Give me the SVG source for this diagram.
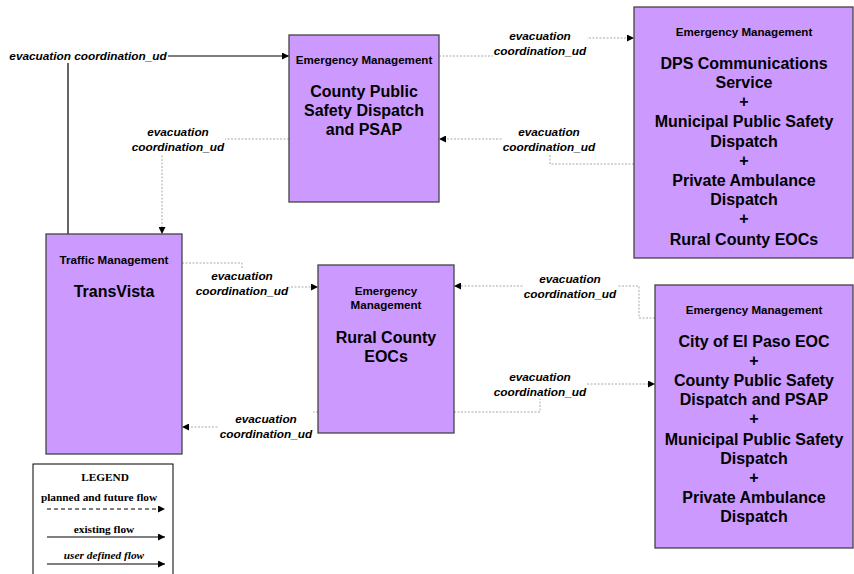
<svg xmlns="http://www.w3.org/2000/svg" width="854" height="574" viewBox="0 0 854 574">
<style>
.box{fill:#CC99FF;stroke:#444;stroke-width:1.3}
.hd{font-family:"Liberation Sans",Arial,sans-serif;font-size:11.6px;font-weight:bold;text-anchor:middle;fill:#000}
.tt{font-family:"Liberation Sans",Arial,sans-serif;font-size:16px;font-weight:bold;text-anchor:middle;fill:#000}
.lb{font-family:"Liberation Sans",Arial,sans-serif;font-size:11.8px;font-weight:bold;font-style:italic;text-anchor:middle;fill:#000}
.dot{fill:none;stroke:#aaa;stroke-width:1;stroke-dasharray:2,1.5}
.sol{fill:none;stroke:#000;stroke-width:1.2}
.lg{font-family:"Liberation Serif","Times New Roman",serif;font-size:11.3px;font-weight:bold;text-anchor:middle;fill:#000}
.bg{fill:#fff}
</style>
<defs>
<marker id="ah" viewBox="0 0 10 10" refX="10" refY="5" markerWidth="7" markerHeight="7" markerUnits="userSpaceOnUse" orient="auto">
<path d="M0,0L10,5L0,10z" fill="#000"/>
</marker>
</defs>
<rect width="854" height="574" fill="#fff"/>
<g id="connectors">
<path class="sol" d="M68,234V56H289" marker-end="url(#ah)"/>
<path class="dot" d="M289,139H162V234" marker-end="url(#ah)"/>
<path class="dot" d="M439,56H540V38H634" marker-end="url(#ah)"/>
<path class="dot" d="M634,164H550V139H439" marker-end="url(#ah)"/>
<path class="dot" d="M182,263H242V287H318" marker-end="url(#ah)"/>
<path class="dot" d="M318,412H266V427H182" marker-end="url(#ah)"/>
<path class="dot" d="M655,318H639V286H454" marker-end="url(#ah)"/>
<path class="dot" d="M454,412H540V384H655" marker-end="url(#ah)"/>
<rect class="bg" x="8" y="48" width="160" height="15"/>
<text class="lb" x="88" y="60">evacuation coordination_ud</text>
<rect class="bg" x="131" y="124" width="94" height="30"/>
<text class="lb" x="178" y="136">evacuation</text>
<text class="lb" x="178" y="151">coordination_ud</text>
<rect class="bg" x="493" y="28" width="94" height="30"/>
<text class="lb" x="540" y="40">evacuation</text>
<text class="lb" x="540" y="55">coordination_ud</text>
<rect class="bg" x="502" y="124" width="94" height="30"/>
<text class="lb" x="549" y="136">evacuation</text>
<text class="lb" x="549" y="151">coordination_ud</text>
<rect class="bg" x="195" y="268" width="94" height="30"/>
<text class="lb" x="242" y="280">evacuation</text>
<text class="lb" x="242" y="295">coordination_ud</text>
<rect class="bg" x="219" y="411" width="94" height="30"/>
<text class="lb" x="266" y="423">evacuation</text>
<text class="lb" x="266" y="438">coordination_ud</text>
<rect class="bg" x="523" y="271" width="94" height="30"/>
<text class="lb" x="570" y="283">evacuation</text>
<text class="lb" x="570" y="298">coordination_ud</text>
<rect class="bg" x="493" y="369" width="94" height="30"/>
<text class="lb" x="540" y="381">evacuation</text>
<text class="lb" x="540" y="396">coordination_ud</text>
</g>
<g id="county">
<rect class="box" x="289" y="35" width="150" height="167"/>
<text class="hd" x="364" y="64">Emergency Management</text>
<text class="tt" x="364" y="97">County Public</text>
<text class="tt" x="364" y="116">Safety Dispatch</text>
<text class="tt" x="364" y="135">and PSAP</text>
</g>
<g id="dps">
<rect class="box" x="634" y="7" width="219" height="251"/>
<text class="hd" x="744" y="36">Emergency Management</text>
<text class="tt" x="744" y="69">DPS Communications</text>
<text class="tt" x="744" y="88">Service</text>
<text class="tt" x="744" y="107">+</text>
<text class="tt" x="744" y="127">Municipal Public Safety</text>
<text class="tt" x="744" y="147">Dispatch</text>
<text class="tt" x="744" y="166">+</text>
<text class="tt" x="744" y="186">Private Ambulance</text>
<text class="tt" x="744" y="205">Dispatch</text>
<text class="tt" x="744" y="224">+</text>
<text class="tt" x="744" y="245">Rural County EOCs</text>
</g>
<g id="transvista">
<rect class="box" x="46" y="234" width="136" height="220"/>
<text class="hd" x="114" y="264">Traffic Management</text>
<text class="tt" x="114" y="297">TransVista</text>
</g>
<g id="rural">
<rect class="box" x="318" y="265" width="136" height="168"/>
<text class="hd" x="386" y="295">Emergency</text>
<text class="hd" x="386" y="309">Management</text>
<text class="tt" x="386" y="343">Rural County</text>
<text class="tt" x="386" y="362">EOCs</text>
</g>
<g id="elpaso">
<rect class="box" x="655" y="285" width="198" height="263"/>
<text class="hd" x="754" y="314">Emergency Management</text>
<text class="tt" x="754" y="347">City of El Paso EOC</text>
<text class="tt" x="754" y="366">+</text>
<text class="tt" x="754" y="386">County Public Safety</text>
<text class="tt" x="754" y="405">Dispatch and PSAP</text>
<text class="tt" x="754" y="424">+</text>
<text class="tt" x="754" y="445">Municipal Public Safety</text>
<text class="tt" x="754" y="464">Dispatch</text>
<text class="tt" x="754" y="483">+</text>
<text class="tt" x="754" y="503">Private Ambulance</text>
<text class="tt" x="754" y="522">Dispatch</text>
</g>
<g id="legend">
<rect x="33" y="464" width="140" height="115" fill="#fff" stroke="#000" stroke-width="1"/>
<text class="lg" x="105" y="481" font-size="12px">LEGEND</text>
<text class="lg" x="99" y="501">planned and future flow</text>
<path d="M47,509H165" stroke="#000" stroke-width="1" stroke-dasharray="4,3" marker-end="url(#ah)"/>
<text class="lg" x="104" y="533">existing flow</text>
<path d="M47,537H165" stroke="#000" stroke-width="1" marker-end="url(#ah)"/>
<text class="lg" x="104" y="559" font-style="italic">user defined flow</text>
<path d="M47,564H165" stroke="#000" stroke-width="1" marker-end="url(#ah)"/>
</g>
</svg>
